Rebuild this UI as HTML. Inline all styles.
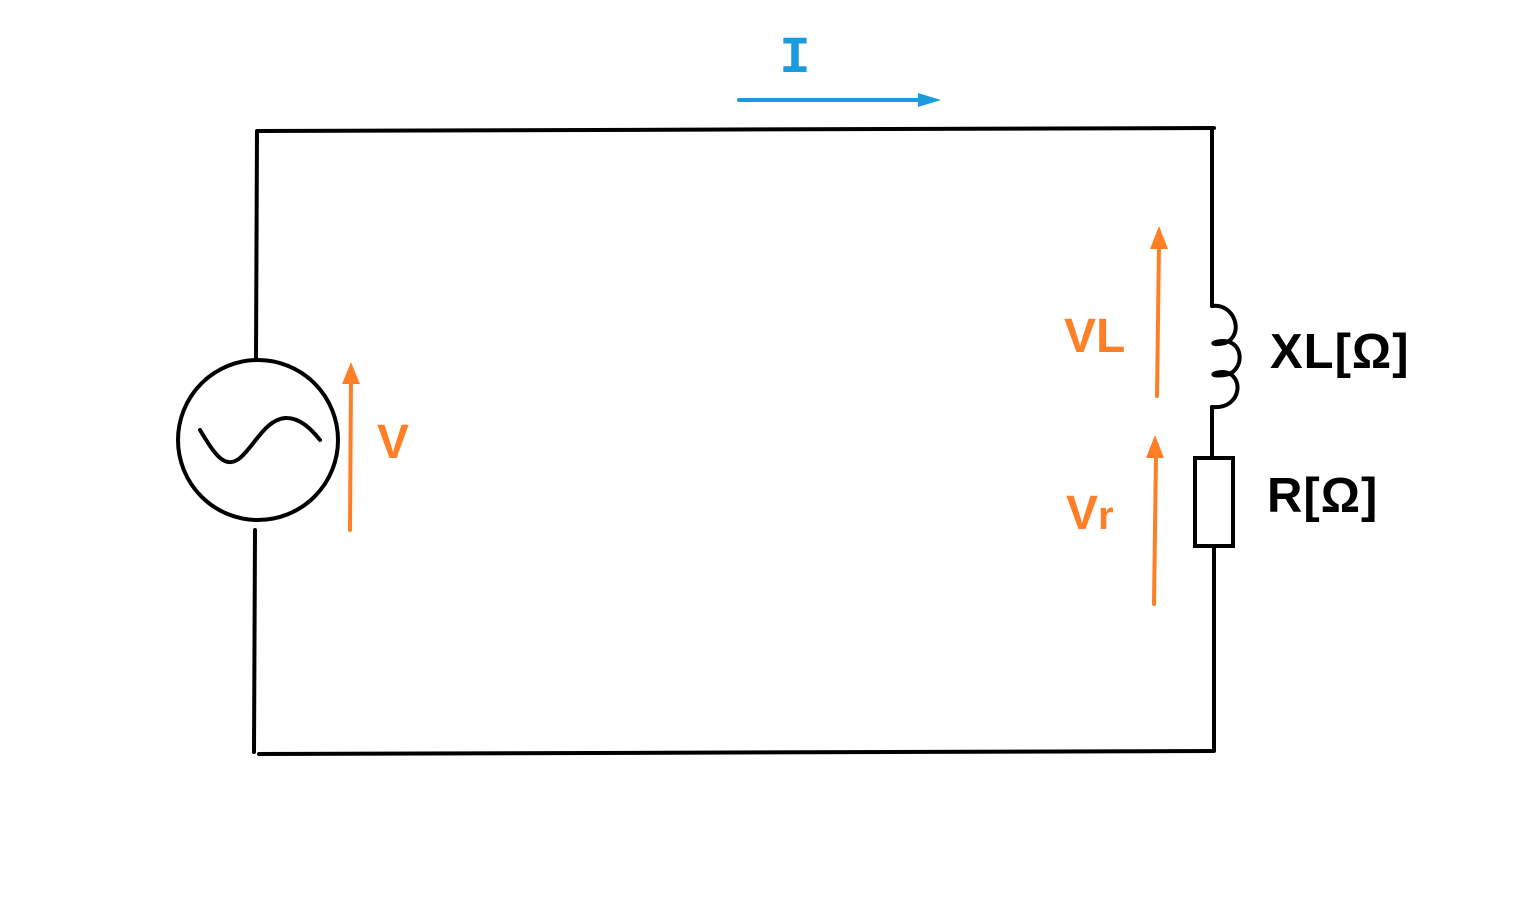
<!DOCTYPE html>
<html><head><style>
html,body{margin:0;padding:0;background:#fff;}
svg{display:block;}
text{font-family:"Liberation Sans","DejaVu Sans",sans-serif;font-weight:bold;}
</style></head><body>
<svg width="1536" height="907" viewBox="0 0 1536 907" xmlns="http://www.w3.org/2000/svg">
<g fill="none" stroke="#000" stroke-width="4" stroke-linecap="round">
<line x1="258" y1="131" x2="1214" y2="128"/>
<line x1="257" y1="131" x2="256" y2="358"/>
<line x1="255" y1="530" x2="254" y2="752"/>
<line x1="259" y1="754" x2="1214" y2="751"/>
<line x1="1212" y1="130" x2="1212" y2="306"/>
<circle cx="258" cy="440" r="80"/>
<path d="M200,430 C215,455 225,470 240,458 C255,445 265,420 285,418 C300,417 312,430 320,440"/>
<path d="M1212,306 C1235,303 1245,335 1225,343 C1210,346 1210,342 1222,341 C1245,340 1245,372 1225,375 C1210,377 1210,373 1222,372 C1245,372 1243,410 1212,407"/>
<line x1="1212" y1="407" x2="1212" y2="458"/>
<rect x="1195" y="458" width="38" height="88"/>
<line x1="1214" y1="546" x2="1214" y2="750"/>
</g>
<g stroke="#FF7F27" stroke-width="4" stroke-linecap="round" fill="#FF7F27">
<line x1="350" y1="530" x2="351" y2="380"/>
<polygon points="342,384 351,362 360,384" stroke="none"/>
<line x1="1157" y1="396" x2="1159" y2="245"/>
<polygon points="1150,249 1159,226 1168,249" stroke="none"/>
<line x1="1154" y1="604" x2="1156" y2="455"/>
<polygon points="1146,458 1155,435 1164,458" stroke="none"/>
</g>
<g stroke="#1A9BE0" stroke-width="4" stroke-linecap="round" fill="#1A9BE0">
<line x1="739" y1="100" x2="922" y2="100"/>
<polygon points="918,93 941,100 918,107" stroke="none"/>
</g>
<text x="795" y="72" font-size="52" fill="#1A9BE0" text-anchor="middle" style="font-family:'Liberation Mono',monospace">I</text>
<text x="377" y="458" font-size="48" fill="#FF7F27">V</text>
<text x="1064" y="352" font-size="48" fill="#FF7F27">VL</text>
<text x="1066" y="529" font-size="48" fill="#FF7F27">V<tspan font-size="40">r</tspan></text>
<text x="1270" y="368" font-size="49" fill="#000" letter-spacing="1">XL[Ω]</text>
<text x="1267" y="512" font-size="49" fill="#000" letter-spacing="1">R[Ω]</text>
</svg>
</body></html>
